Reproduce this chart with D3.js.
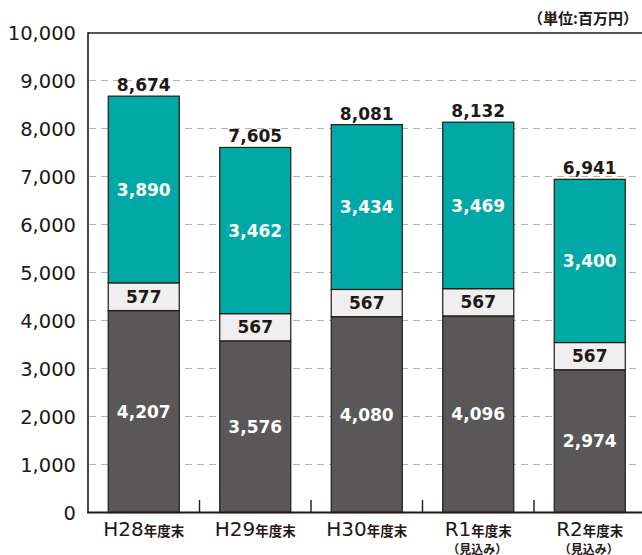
<!DOCTYPE html>
<html><head><meta charset="utf-8">
<script src="https://cdn.jsdelivr.net/npm/d3@7"></script>
<style>body{margin:0;background:#fff}svg{display:block}</style>
</head><body><svg id="c" width="642" height="555"></svg>
<script>
const categories = ["H28", "H29", "H30", "R1", "R2"];
const subLabels = ["", "", "", "（見込み）", "（見込み）"];
const bottomVals = [4207, 3576, 4080, 4096, 2974];
const middleVals = [577, 567, 567, 567, 567];
const topVals = [3890, 3462, 3434, 3469, 3400];
const totals = [8674, 7605, 8081, 8132, 6941];
const yTicks = [0, 1000, 2000, 3000, 4000, 5000, 6000, 7000, 8000, 9000, 10000];
const unitLabel = "（単位:百万円）";
const suffix = "年度末";

const svg = d3.select("#c");
const dark = "#231815";
const x = d3.scaleBand().domain(categories).range([88, 645.5]).paddingInner(0.363).paddingOuter(0.1815);
const y = d3.scaleLinear().domain([0, 10000]).range([512.5, 32.5]);
const fmt = d3.format(",");
const font = "'DejaVu Sans', sans-serif";
const cjk = "'Noto Sans CJK JP', sans-serif";

// gridlines
svg.append("g").selectAll("line").data(yTicks.filter(d => d > 0 && d < 10000)).join("line")
  .attr("x1", 89).attr("x2", 640).attr("y1", d => y(d)).attr("y2", d => y(d))
  .attr("stroke", "#b5b5b5").attr("stroke-width", 1.2).attr("stroke-dasharray", "7,5");

// y tick labels
svg.append("g").selectAll("text").data(yTicks).join("text")
  .attr("x", 76).attr("y", d => y(d)).attr("dy", "0.36em").attr("text-anchor", "end")
  .attr("font-family", font).attr("font-size", 19.5).attr("fill", dark).text(d => fmt(d));

// stacks
const series = [
  {vals: bottomVals, base: categories.map(() => 0), fill: "#595757", tc: "#fff"},
  {vals: middleVals, base: bottomVals, fill: "#efefef", tc: dark},
  {vals: topVals, base: bottomVals.map((b, i) => b + middleVals[i]), fill: "#00a9a5", tc: "#fff"}
];
series.forEach(s => {
  const g = svg.append("g");
  g.selectAll("rect").data(categories).join("rect")
    .attr("x", d => x(d)).attr("width", x.bandwidth())
    .attr("y", (d, i) => y(s.base[i] + s.vals[i]))
    .attr("height", (d, i) => y(s.base[i]) - y(s.base[i] + s.vals[i]))
    .attr("fill", s.fill).attr("stroke", dark).attr("stroke-width", 1.2);
  g.selectAll("text").data(categories).join("text")
    .attr("x", d => x(d) + x.bandwidth() / 2)
    .attr("y", (d, i) => y(s.base[i] + s.vals[i] / 2)).attr("dy", "0.36em")
    .attr("text-anchor", "middle").attr("font-family", font).attr("font-weight", "bold")
    .attr("font-size", 17).attr("fill", s.tc).text((d, i) => fmt(s.vals[i]));
});

// totals
svg.append("g").selectAll("text").data(categories).join("text")
  .attr("x", d => x(d) + x.bandwidth() / 2).attr("y", (d, i) => y(totals[i]) - 5)
  .attr("text-anchor", "middle").attr("font-family", font).attr("font-weight", "bold")
  .attr("font-size", 17).attr("fill", dark).text((d, i) => fmt(totals[i]));

// axes frame
svg.append("line").attr("x1", 88).attr("x2", 642).attr("y1", 33).attr("y2", 33).attr("stroke", dark).attr("stroke-width", 1.6);
svg.append("line").attr("x1", 88).attr("x2", 88).attr("y1", 32.2).attr("y2", 513).attr("stroke", dark).attr("stroke-width", 1.6);
svg.append("line").attr("x1", 87.2).attr("x2", 642).attr("y1", 512.5).attr("y2", 512.5).attr("stroke", dark).attr("stroke-width", 2);
// small ticks between bars
const mids = categories.slice(0, -1).map((c, i) => (x(c) + x.bandwidth() + x(categories[i + 1])) / 2);
svg.append("g").selectAll("line").data(mids).join("line")
  .attr("x1", d => d).attr("x2", d => d).attr("y1", 500).attr("y2", 512)
  .attr("stroke", dark).attr("stroke-width", 1.4);

// x labels
const xl = svg.append("g").selectAll("text").data(categories).join("text")
  .attr("x", d => x(d) + x.bandwidth() / 2).attr("y", 536).attr("text-anchor", "middle")
  .attr("font-family", font).attr("fill", dark);
xl.append("tspan").attr("font-size", 20).text(d => d);
xl.append("tspan").attr("font-size", 13.5).attr("font-weight", "bold")
  .attr("font-family", cjk).text(suffix);
svg.append("g").selectAll("text").data(categories).join("text")
  .attr("x", d => x(d) + x.bandwidth() / 2 - 1).attr("y", 553.5).attr("text-anchor", "middle")
  .attr("font-family", cjk).attr("font-weight", "bold")
  .attr("font-size", 12).attr("fill", dark).text((d, i) => subLabels[i]);

// unit label
svg.append("text").attr("x", 638).attr("y", 24).attr("text-anchor", "end")
  .attr("font-family", cjk).attr("font-weight", "bold")
  .attr("font-size", 15).attr("fill", dark).text(unitLabel);
</script></body></html>
